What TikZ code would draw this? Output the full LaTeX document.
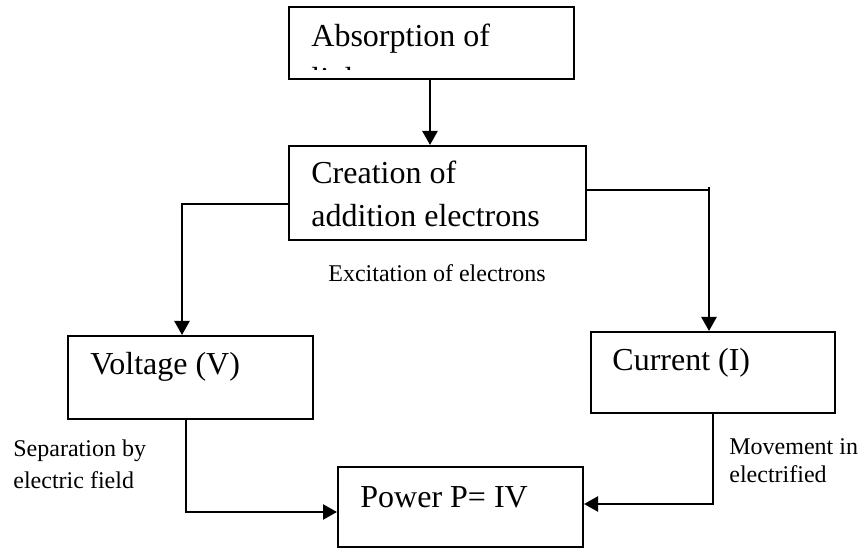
\documentclass[tikz,border=0pt]{standalone}
\usepackage{fontspec}
\setmainfont{Liberation Serif}
\usetikzlibrary{arrows.meta,calc}
\begin{document}
\begin{tikzpicture}[x=0.5pt,y=-0.5pt,
  box/.style={draw,line width=1pt,rectangle,inner sep=0pt},
  big/.style={font=\fontsize{16}{18}\selectfont,anchor=base west,inner sep=0pt},
  small/.style={font=\fontsize{12}{14}\selectfont,anchor=base west,inner sep=0pt},
  conn/.style={line width=1.2pt,-{Triangle[length=7pt,width=7.5pt]}},
  thin/.style={line width=0.7pt}]
\useasboundingbox (0,0) rectangle (861,549);
% boxes
\node[box,minimum width=142.5pt,minimum height=36pt] (abs) at (431.5,43) {};
\node[box,minimum width=148.5pt,minimum height=47pt] (cre) at (437.5,193) {};
\node[box,minimum width=122.5pt,minimum height=41.5pt] (vol) at (190.5,377.5) {};
\node[box,minimum width=122pt,minimum height=40.5pt] (cur) at (713,372.5) {};
\node[box,minimum width=122.5pt,minimum height=40pt] (pow) at (460.5,507) {};
% box texts
\node[big] (tabs) at (311,47) {Absorption of};
\begin{scope}
  \clip (290,8) rectangle (573,70);
  \node[big] (tlight) at (311,90) {light};
\end{scope}
\node[big] (tcre1) at (311,184) {Creation of};
\node[big] (tcre2) at (311,227) {addition electrons};
\node[big] (tvol) at (90,375) {Voltage (V)};
\node[big] (tcur) at (612,371) {Current (I)};
\node[big] (tpow) at (360,507) {Power P= IV};
% labels
\node[small] (lexc) at (328,282) {Excitation of electrons};
\node[small] (lsep1) at (13,457) {Separation by};
\node[small] (lsep2) at (13,488) {electric field};
\node[small] (lmov1) at (729,455) {Movement in};
\node[small] (lmov2) at (729,482) {electrified};
% connectors
\coordinate (a1) at (430,79);
\draw[conn] (abs.south -| a1) -- (a1 |- cre.north);
\coordinate (l1) at (182,204);
\draw[conn] (cre.west |- l1) -- (l1) -- (l1 |- vol.north);
\coordinate (r1) at (709,190);
\coordinate (r0) at (709,187);
\draw[thin] (cre.east |- r1) -- (r1);
\draw[conn] (r0) -- (r0 |- cur.north);
\coordinate (v1) at (186,512);
\draw[conn] (vol.south -| v1) -- (v1) -- (v1 -| pow.west);
\coordinate (p1) at (713,504);
\draw[conn] (cur.south -| p1) -- (p1) -- (p1 -| pow.east);
\end{tikzpicture}
\end{document}
